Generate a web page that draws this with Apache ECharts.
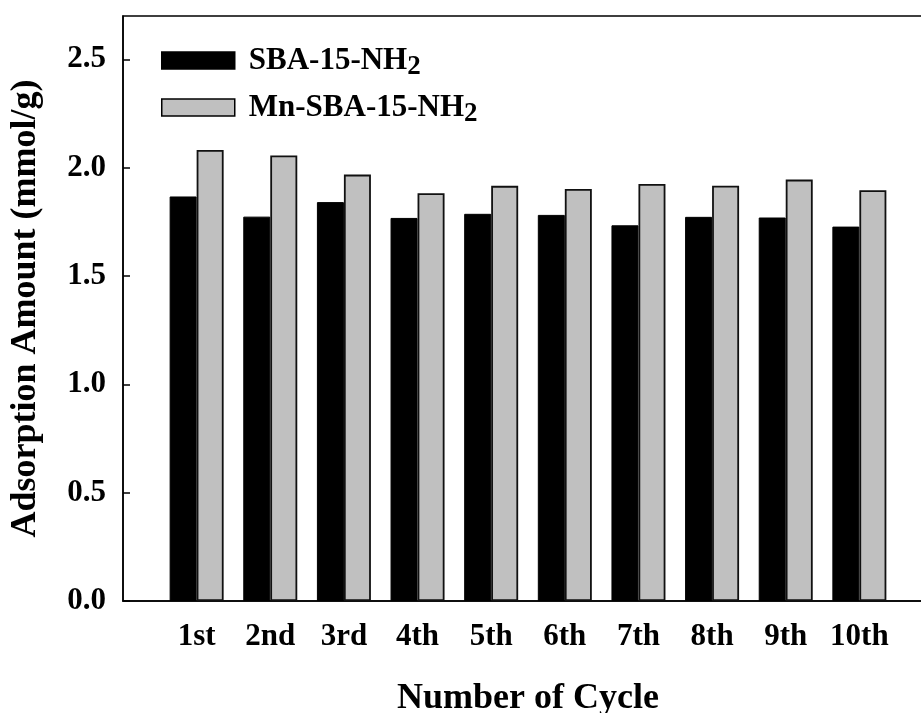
<!DOCTYPE html>
<html>
<head>
<meta charset="utf-8">
<script src="https://cdn.jsdelivr.net/npm/echarts@6/dist/echarts.min.js"></script>
<style>
  html, body { margin: 0; padding: 0; background: #fff; }
  #chart { width: 921px; height: 713px; }
</style>
</head>
<body>
<div id="chart"></div>
<script>
// Adsorption capacity over repeated adsorption/desorption cycles
const cycleLabels = ['1st', '2nd', '3rd', '4th', '5th', '6th', '7th', '8th', '9th', '10th'];
const sbaValues   = [1.867, 1.774, 1.841, 1.768, 1.787, 1.782, 1.734, 1.773, 1.770, 1.728];
const mnSbaValues = [2.082, 2.056, 1.968, 1.882, 1.916, 1.902, 1.925, 1.917, 1.945, 1.896];
const yTicks = [0, 0.5, 1.0, 1.5, 2.0, 2.5];

const FONT = "'Liberation Serif', 'Times New Roman', serif";

// cycles sit at positions 1..10 on a numeric x axis
const cyclePos = cycleLabels.map((_, i) => i + 1);
const toPairs = vals => vals.map((v, i) => [cyclePos[i], v]);

const chart = echarts.init(document.getElementById('chart'), null, { renderer: 'canvas' });

const subRich = {
  main: { fontFamily: FONT, fontWeight: 'bold', fontSize: 31, color: '#000' },
  sub:  { fontFamily: FONT, fontWeight: 'bold', fontSize: 27, color: '#000', padding: [14, 0, 0, 0] }
};

chart.setOption({
  animation: false,
  backgroundColor: '#fff',
  grid: {
    left: 123, right: -12, top: 16, bottom: 112,
    outerBoundsMode: 'none',
    containLabel: false,
    show: true, borderColor: '#000', borderWidth: 1.5, backgroundColor: 'transparent'
  },
  legend: {
    orient: 'vertical',
    left: 156, top: 40,
    itemWidth: 73, itemHeight: 17, itemGap: 11,
    icon: 'rect',
    data: [
      { name: 'SBA-15-NH2', itemStyle: { color: '#000', borderColor: '#000', borderWidth: 1.5 } },
      { name: 'Mn-SBA-15-NH2', itemStyle: { color: '#c0c0c0', borderColor: '#000', borderWidth: 1.5 } }
    ],
    formatter: name => '{main|' + name.slice(0, -1) + '}{sub|2}',
    textStyle: { rich: subRich, padding: [0, 0, 0, 9] }
  },
  xAxis: {
    type: 'value',
    min: 0, max: 11, interval: 1,
    name: 'Number of Cycle',
    nameLocation: 'middle',
    nameGap: 80,
    nameTextStyle: { fontFamily: FONT, fontWeight: 'bold', fontSize: 36, color: '#000' },
    axisLine: { show: true, onZero: false, lineStyle: { color: '#000', width: 1.5 } },
    axisTick: { show: false },
    splitLine: { show: false },
    axisLabel: {
      customValues: cyclePos,
      formatter: v => cycleLabels[v - 1] || '',
      fontFamily: FONT, fontWeight: 'bold', fontSize: 31, color: '#000',
      margin: 20
    }
  },
  yAxis: {
    type: 'value',
    min: 0, max: 2.7, interval: 0.5,
    name: 'Adsorption Amount (mmol/g)',
    nameLocation: 'middle',
    nameGap: 79,
    nameRotate: 90,
    nameTextStyle: { fontFamily: FONT, fontWeight: 'bold', fontSize: 36, color: '#000' },
    axisLine: { show: true, lineStyle: { color: '#000', width: 1.5 } },
    axisTick: { show: true, inside: true, length: 7, customValues: yTicks, lineStyle: { color: '#000', width: 1.5 } },
    splitLine: { show: false },
    axisLabel: {
      customValues: yTicks,
      formatter: v => v.toFixed(1),
      fontFamily: FONT, fontWeight: 'bold', fontSize: 31, color: '#000',
      margin: 17
    }
  },
  series: [
    {
      name: 'SBA-15-NH2',
      type: 'bar',
      barWidth: 27,
      barGap: '0%',
      itemStyle: { color: '#000', borderColor: '#000', borderWidth: 1 },
      data: toPairs(sbaValues)
    },
    {
      name: 'Mn-SBA-15-NH2',
      type: 'bar',
      barWidth: 27,
      barGap: '0%',
      itemStyle: { color: '#c0c0c0', borderColor: '#111', borderWidth: 1.8 },
      data: toPairs(mnSbaValues)
    }
  ]
});
</script>
</body>
</html>
